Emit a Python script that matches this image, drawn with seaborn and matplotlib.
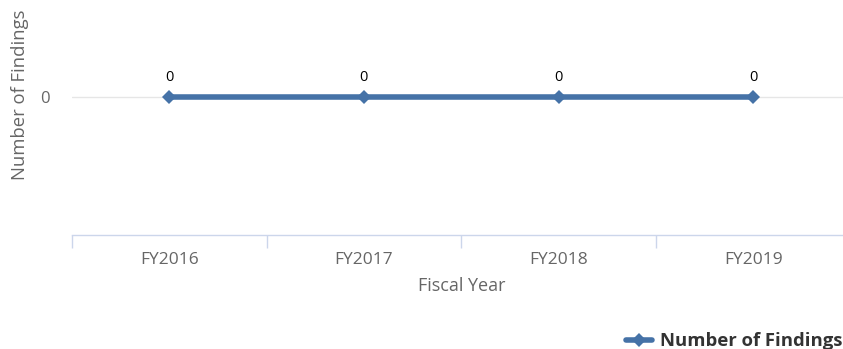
import matplotlib
matplotlib.use("Agg")
import matplotlib.pyplot as plt
from matplotlib.lines import Line2D
import seaborn as sns
import pandas as pd

fiscal_years = ["FY2016", "FY2017", "FY2018", "FY2019"]
findings = [0, 0, 0, 0]
series_name = "Number of Findings"

sns.set_theme(style="white")
plt.rcParams["font.family"] = ["Open Sans", "DejaVu Sans"]

df = pd.DataFrame({"pos": range(len(fiscal_years)), "year": fiscal_years, "value": findings})

line_color = "#4572A7"
axis_color = "#ccd6eb"
grid_color = "#e6e6e6"
text_gray = "#666666"

fig = plt.figure(figsize=(8.43, 3.49), dpi=100)
# plot area runs a little past the right edge of the canvas
ax = fig.add_axes([72 / 843, 1 - 235 / 349, (850.5 - 72) / 843, (235 - 10) / 349])

sns.lineplot(data=df, x="pos", y="value", ax=ax, color=line_color, linewidth=4,
             marker="D", markersize=7, markeredgewidth=0, sort=False, legend=False)

ax.set_xlim(-0.5, len(fiscal_years) - 0.5)
ax.set_ylim(-0.613, 0.387)

# category axis: labels centred, tick marks on the band edges
ax.set_xticks(range(len(fiscal_years)))
ax.set_xticklabels(fiscal_years, fontsize=12.5, color=text_gray)
ax.tick_params(axis="x", which="major", bottom=True, length=0, pad=12)
ax.set_xticks([i - 0.5 for i in range(len(fiscal_years) + 1)], minor=True)
ax.tick_params(axis="x", which="minor", bottom=True, length=9.5, width=1, color=axis_color)

ax.set_yticks([0])
ax.set_yticklabels(["0"], fontsize=12, color=text_gray)
ax.tick_params(axis="y", length=0, pad=16)
ax.yaxis.grid(True, color=grid_color, linewidth=1)
ax.set_axisbelow(True)

for side in ["top", "right", "left"]:
    ax.spines[side].set_visible(False)
ax.spines["bottom"].set_color(axis_color)
ax.spines["bottom"].set_linewidth(1)

ax.set_xlabel("Fiscal Year", fontsize=13, color=text_gray, labelpad=7)
ax.set_ylabel("")
fig.text(20 / 843, 1 - 95 / 349, "Number of Findings", rotation=90, fontsize=13.3,
         color=text_gray, ha="center", va="center")

for x, v in zip(df["pos"], df["value"]):
    ax.annotate(f"{v}", (x, v), xytext=(0, 9), textcoords="offset points",
                ha="center", va="bottom", fontsize=10.5, color="black")

handle = Line2D([0], [0], color=line_color, linewidth=4, marker="D", markersize=7,
                markeredgewidth=0)
fig.legend([handle], [series_name], loc="center right", bbox_to_anchor=(1.0, 1 - 341 / 349),
           frameon=False, handlelength=1.4, handletextpad=0.45,
           prop={"weight": "bold", "size": 13.3}, labelcolor="#333333", borderaxespad=0.0,
           borderpad=0.0)

fig.savefig("out.png", dpi=100)
